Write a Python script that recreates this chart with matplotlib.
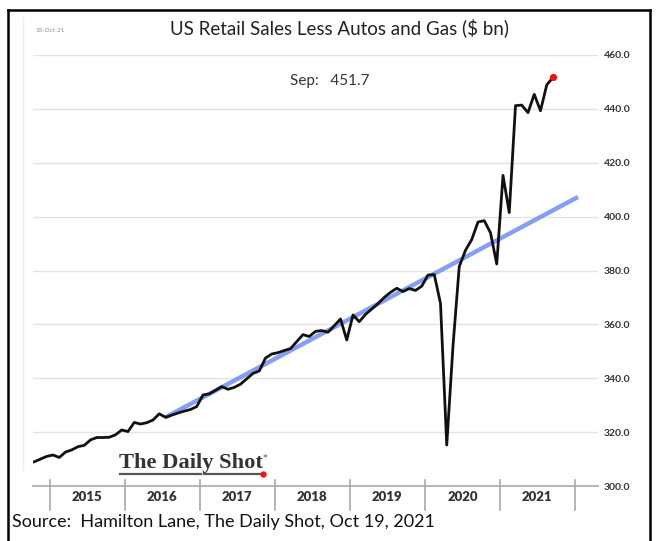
import numpy as np
import pandas as pd
import matplotlib
matplotlib.use("Agg")
import matplotlib.pyplot as plt
import matplotlib.transforms as mtransforms
from matplotlib.lines import Line2D

# ---------------- data ----------------
start_month = "2014-10"
sales = [
    309.0, 310.0, 311.0,
    311.5, 310.6, 312.6, 313.4, 314.6, 315.1, 317.1, 318.0, 318.0, 318.1, 319.0, 320.8,
    320.2, 323.6, 323.0, 323.5, 324.5, 326.8, 325.5, 326.3, 327.1, 327.8, 328.4, 329.5,
    333.8, 334.2, 335.5, 336.9, 335.9, 336.6, 337.8, 339.8, 341.8, 342.7, 347.5, 349.0,
    349.5, 350.3, 351.0, 353.6, 356.2, 355.5, 357.4, 357.7, 357.1, 359.5, 362.0, 354.2,
    363.5, 361.0, 363.7, 365.7, 367.7, 370.0, 371.9, 373.4, 372.2, 373.3, 372.6, 374.2,
    378.3, 378.5, 367.8, 315.2, 352.0, 381.5, 387.5, 391.5, 398.0, 398.5, 394.0, 382.4,
    415.3, 401.5, 441.2, 441.4, 438.6, 445.4, 439.3, 448.9, 451.7,
]
trend_months = ["2016-07", "2022-01"]
trend_values = [325.5, 407.3]
years = [2015, 2016, 2017, 2018, 2019, 2020, 2021]
y_ticks = [300, 320, 340, 360, 380, 400, 420, 440, 460]
title = "US Retail Sales Less Autos and Gas ($ bn)"
source = "Source:  Hamilton Lane, The Daily Shot, Oct 19, 2021"
date_stamp = "15-Oct-21"

# ---------------- helpers ----------------
def month_pos(period):
    """month index relative to Jan 2015"""
    p = pd.Period(period, freq="M")
    return (p.year - 2015) * 12 + (p.month - 1)

dates = pd.period_range(start_month, periods=len(sales), freq="M")
x = np.array([(d.year - 2015) * 12 + d.month - 1 for d in dates], dtype=float)
tx = np.array([month_pos(m) for m in trend_months], dtype=float)

W, H = 658, 541
fig = plt.figure(figsize=(W / 100, H / 100), dpi=100)
fig.patch.set_facecolor("white")

FONT = ["Lato", "DejaVu Sans"]

def fx(px):
    return px / W

def fy(py):
    return 1 - py / H

ax = fig.add_axes([fx(33), fy(486), fx(598) - fx(33), fy(55) - fy(486)])
ax.set_facecolor("white")
ax.set_xlim(-3.2, 87.2)
ax.set_ylim(300, 460)

for s in ax.spines.values():
    s.set_visible(False)

# grid lines
for v in y_ticks[1:]:
    ax.axhline(v, color="#e3e3e3", lw=1.0, zorder=1)
ax.axhline(300, color="#a8a8a8", lw=1.2, zorder=2, clip_on=False)

# y tick labels on right
ax.yaxis.tick_right()
ax.set_yticks(y_ticks)
ax.set_yticklabels([f"{v:.1f}" for v in y_ticks], fontsize=7.5,
                   color="#333333", fontweight="bold", family=FONT)
ax.tick_params(axis="y", length=0, pad=4)

# x axis: year separators + centered labels
ax.set_xticks([])
trans = mtransforms.blended_transform_factory(ax.transData, ax.transAxes)
bounds = [12 * (y - 2015) - 0.5 for y in years] + [12 * (years[-1] + 1 - 2015) - 0.5]
for b in bounds:
    ax.add_line(Line2D([b, b], [0.014, -0.056], transform=trans,
                       color="#a8a8a8", lw=1.2, clip_on=False))
for y in years:
    ax.text(12 * (y - 2015) + 5.5, -0.026, str(y), transform=trans,
            ha="center", va="center", fontsize=9.5, fontweight="heavy",
            color="#333333", family=FONT)

# trend line & data
ax.plot(tx, trend_values, color="#6f8ef2", lw=3.2, alpha=0.85,
        solid_capstyle="butt", zorder=3)
ax.plot(x, sales, color="#111111", lw=2.0, zorder=4)
ax.plot(x[-1], sales[-1], "o", color="#ee1111", ms=4.2, zorder=5)

# annotation of latest value
ax.text(0.525, 0.94, f"{dates[-1].strftime('%b')}:   {sales[-1]:.1f}",
        transform=ax.transAxes, ha="center", va="center", fontsize=11,
        color="#333333", family=FONT,
        bbox=dict(facecolor="white", edgecolor="none", pad=8))

# title & stamps
fig.text(fx(339), fy(28), title, ha="center", va="center",
         fontsize=13.5, color="#222222", family=FONT)
fig.text(fx(35), fy(30), date_stamp, ha="left", va="center",
         fontsize=4.5, color="#888888", family=FONT)
fig.text(fx(12), fy(522), source, ha="left", va="center",
         fontsize=13, color="#111111", family=FONT)

# The Daily Shot logo
fig.text(fx(119), fy(463), "The Daily Shot", ha="left", va="center",
         fontsize=16.2, color="#333333", family=["Liberation Serif", "DejaVu Serif"],
         fontweight="bold")
fig.text(fx(263), fy(458), "*", ha="left", va="center", fontsize=7,
         color="#555555", family=["Liberation Serif"])
fig.add_artist(Line2D([fx(120), fx(201)], [fy(474), fy(474)], color="#555555", lw=1.6))
fig.add_artist(Line2D([fx(204), fx(262)], [fy(474), fy(474)], color="#555555", lw=1.6))
fig.add_artist(Line2D([fx(263)], [fy(474)], marker="o", ms=3.5, color="#ee1111", lw=0))

# frame
fig.add_artist(Line2D([fx(7.5), fx(7.5)], [fy(10), fy(545)], color="black", lw=1.8))
fig.add_artist(Line2D([fx(7.5), fx(650)], [fy(10), fy(10)], color="black", lw=1.8))
fig.add_artist(Line2D([fx(650), fx(650)], [fy(10), fy(545)], color="black", lw=1.8))
fig.add_artist(Line2D([fx(23), fx(23)], [fy(17), fy(470)], color="#eeeeee", lw=1.0))

fig.savefig("out.png", dpi=100, facecolor="white")
